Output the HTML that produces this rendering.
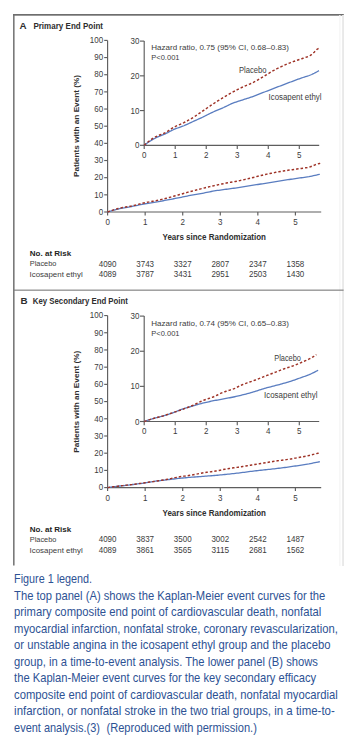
<!DOCTYPE html>
<html><head><meta charset="utf-8">
<style>
html,body{margin:0;padding:0;background:#fff;}
body{width:356px;height:743px;overflow:hidden;position:relative;}
svg{position:absolute;left:0;top:0;font-family:"Liberation Sans",sans-serif;}
</style></head><body>
<svg width="356" height="743" viewBox="0 0 356 743">
<rect x="13" y="14" width="1.6" height="551.5" fill="#7a7a7a"/>
<rect x="13" y="14" width="330.8" height="1.7" fill="#6e6e6e"/>
<rect x="342.1" y="15" width="1.9" height="551" fill="#e9e9e9"/>
<rect x="339.2" y="15" width="1.3" height="551" fill="#f6f6f6"/>
<rect x="14" y="289.6" width="329.6" height="1.1" fill="#7a7a7a"/>
<text x="19.6" y="28.9" font-weight="bold" font-size="9.8" fill="#2e2e2e">A</text>
<text x="33.4" y="29.4" font-weight="bold" font-size="8.9" fill="#2e2e2e" textLength="69.6" lengthAdjust="spacingAndGlyphs">Primary End Point</text>
<text x="20.4" y="303.8" font-weight="bold" font-size="9.8" fill="#2e2e2e">B</text>
<text x="32.8" y="303.8" font-weight="bold" font-size="8.9" fill="#2e2e2e" textLength="95.1" lengthAdjust="spacingAndGlyphs">Key Secondary End Point</text>
<g stroke="#5e5e5e" stroke-width="1.15" fill="none">
<path d="M107.6,40.40 V212.00 H321.2"/>
<path d="M104.2,212.00 H107.6"/>
<path d="M104.2,194.84 H107.6"/>
<path d="M104.2,177.68 H107.6"/>
<path d="M104.2,160.52 H107.6"/>
<path d="M104.2,143.36 H107.6"/>
<path d="M104.2,126.20 H107.6"/>
<path d="M104.2,109.04 H107.6"/>
<path d="M104.2,91.88 H107.6"/>
<path d="M104.2,74.72 H107.6"/>
<path d="M104.2,57.56 H107.6"/>
<path d="M104.2,40.40 H107.6"/>
<path d="M107.60,212.00 V215.40"/>
<path d="M145.16,212.00 V215.40"/>
<path d="M182.72,212.00 V215.40"/>
<path d="M220.28,212.00 V215.40"/>
<path d="M257.84,212.00 V215.40"/>
<path d="M295.40,212.00 V215.40"/>
</g>
<g fill="#3c3c3c" font-size="8.6" text-anchor="end">
<text x="103.1" y="214.75" textLength="4.45" lengthAdjust="spacingAndGlyphs">0</text>
<text x="103.1" y="197.59" textLength="8.90" lengthAdjust="spacingAndGlyphs">10</text>
<text x="103.1" y="180.43" textLength="8.90" lengthAdjust="spacingAndGlyphs">20</text>
<text x="103.1" y="163.27" textLength="8.90" lengthAdjust="spacingAndGlyphs">30</text>
<text x="103.1" y="146.11" textLength="8.90" lengthAdjust="spacingAndGlyphs">40</text>
<text x="103.1" y="128.95" textLength="8.90" lengthAdjust="spacingAndGlyphs">50</text>
<text x="103.1" y="111.79" textLength="8.90" lengthAdjust="spacingAndGlyphs">60</text>
<text x="103.1" y="94.63" textLength="8.90" lengthAdjust="spacingAndGlyphs">70</text>
<text x="103.1" y="77.47" textLength="8.90" lengthAdjust="spacingAndGlyphs">80</text>
<text x="103.1" y="60.31" textLength="8.90" lengthAdjust="spacingAndGlyphs">90</text>
<text x="103.1" y="43.15" textLength="13.35" lengthAdjust="spacingAndGlyphs">100</text>
</g>
<g fill="#3c3c3c" font-size="8.6" text-anchor="middle">
<text x="107.60" y="225.10" textLength="4.45" lengthAdjust="spacingAndGlyphs">0</text>
<text x="145.16" y="225.10" textLength="4.45" lengthAdjust="spacingAndGlyphs">1</text>
<text x="182.72" y="225.10" textLength="4.45" lengthAdjust="spacingAndGlyphs">2</text>
<text x="220.28" y="225.10" textLength="4.45" lengthAdjust="spacingAndGlyphs">3</text>
<text x="257.84" y="225.10" textLength="4.45" lengthAdjust="spacingAndGlyphs">4</text>
<text x="295.40" y="225.10" textLength="4.45" lengthAdjust="spacingAndGlyphs">5</text>
</g>
<polyline fill="none" stroke="#5a7dc0" stroke-width="1.3" points="107.60,212.00 109.10,211.53 110.60,211.08 112.11,210.63 113.61,210.21 115.11,209.80 116.61,209.41 118.12,209.05 119.62,208.70 121.12,208.38 122.62,208.09 124.13,207.81 125.63,207.54 127.13,207.28 128.63,207.03 130.14,206.77 131.64,206.50 133.14,206.22 134.64,205.92 136.15,205.60 137.65,205.27 139.15,204.94 140.65,204.62 142.16,204.31 143.66,204.02 145.16,203.76 146.66,203.52 148.16,203.30 149.67,203.09 151.17,202.88 152.67,202.65 154.17,202.42 155.68,202.16 157.18,201.90 158.68,201.62 160.18,201.33 161.69,201.04 163.19,200.74 164.69,200.45 166.19,200.16 167.70,199.87 169.20,199.59 170.70,199.31 172.20,199.03 173.71,198.75 175.21,198.47 176.71,198.18 178.21,197.89 179.72,197.60 181.22,197.29 182.72,196.98 184.22,196.66 185.72,196.34 187.23,196.02 188.73,195.72 190.23,195.42 191.73,195.13 193.24,194.85 194.74,194.59 196.24,194.33 197.74,194.08 199.25,193.82 200.75,193.56 202.25,193.30 203.75,193.02 205.26,192.73 206.76,192.42 208.26,192.12 209.76,191.81 211.27,191.51 212.77,191.23 214.27,190.96 215.77,190.71 217.28,190.48 218.78,190.27 220.28,190.06 221.78,189.86 223.28,189.66 224.79,189.46 226.29,189.26 227.79,189.06 229.29,188.86 230.80,188.66 232.30,188.46 233.80,188.25 235.30,188.05 236.81,187.84 238.31,187.63 239.81,187.41 241.31,187.18 242.82,186.94 244.32,186.70 245.82,186.45 247.32,186.20 248.83,185.95 250.33,185.70 251.83,185.46 253.33,185.21 254.84,184.97 256.34,184.73 257.84,184.49 259.34,184.25 260.84,184.01 262.35,183.77 263.85,183.53 265.35,183.29 266.85,183.05 268.36,182.81 269.86,182.57 271.36,182.33 272.86,182.09 274.37,181.85 275.87,181.62 277.37,181.38 278.87,181.14 280.38,180.90 281.88,180.67 283.38,180.43 284.88,180.19 286.39,179.96 287.89,179.73 289.39,179.50 290.89,179.26 292.40,179.03 293.90,178.80 295.40,178.57 296.90,178.35 298.40,178.13 299.91,177.93 301.41,177.74 302.91,177.54 304.41,177.35 305.92,177.15 307.42,176.93 308.92,176.68 310.42,176.39 311.93,176.07 313.43,175.73 314.93,175.39 316.43,175.05 317.94,174.72 319.44,174.43 319.81,174.37"/>
<polyline fill="none" stroke="#9e3226" stroke-width="1.45" stroke-dasharray="2.5 2.0" points="107.60,212.00 109.10,211.44 110.60,210.90 112.11,210.38 113.61,209.88 115.11,209.41 116.61,208.97 118.12,208.56 119.62,208.18 121.12,207.85 122.62,207.54 124.13,207.27 125.63,207.01 127.13,206.76 128.63,206.51 130.14,206.25 131.64,205.98 133.14,205.67 134.64,205.33 136.15,204.95 137.65,204.55 139.15,204.13 140.65,203.72 142.16,203.33 143.66,202.97 145.16,202.65 146.66,202.36 148.16,202.09 149.67,201.83 151.17,201.57 152.67,201.30 154.17,201.01 155.68,200.71 157.18,200.39 158.68,200.06 160.18,199.73 161.69,199.38 163.19,199.03 164.69,198.66 166.19,198.29 167.70,197.91 169.20,197.52 170.70,197.11 172.20,196.68 173.71,196.25 175.21,195.82 176.71,195.39 178.21,194.96 179.72,194.54 181.22,194.12 182.72,193.69 184.22,193.27 185.72,192.84 187.23,192.42 188.73,192.00 190.23,191.59 191.73,191.19 193.24,190.78 194.74,190.39 196.24,189.99 197.74,189.60 199.25,189.22 200.75,188.83 202.25,188.46 203.75,188.09 205.26,187.72 206.76,187.35 208.26,186.99 209.76,186.63 211.27,186.28 212.77,185.93 214.27,185.59 215.77,185.26 217.28,184.93 218.78,184.61 220.28,184.29 221.78,183.98 223.28,183.67 224.79,183.36 226.29,183.07 227.79,182.78 229.29,182.50 230.80,182.24 232.30,181.98 233.80,181.72 235.30,181.46 236.81,181.20 238.31,180.92 239.81,180.62 241.31,180.30 242.82,179.97 244.32,179.62 245.82,179.27 247.32,178.90 248.83,178.54 250.33,178.17 251.83,177.81 253.33,177.44 254.84,177.06 256.34,176.67 257.84,176.29 259.34,175.90 260.84,175.53 262.35,175.17 263.85,174.82 265.35,174.48 266.85,174.15 268.36,173.83 269.86,173.51 271.36,173.20 272.86,172.90 274.37,172.61 275.87,172.33 277.37,172.05 278.87,171.79 280.38,171.52 281.88,171.27 283.38,171.02 284.88,170.78 286.39,170.54 287.89,170.31 289.39,170.08 290.89,169.87 292.40,169.66 293.90,169.46 295.40,169.26 296.90,169.05 298.40,168.84 299.91,168.62 301.41,168.41 302.91,168.20 304.41,167.99 305.92,167.75 307.42,167.48 308.92,167.14 310.42,166.69 311.93,166.15 313.43,165.59 314.93,164.95 316.43,164.32 317.94,163.88 319.44,163.53 320.22,163.39"/>
<g stroke="#5e5e5e" stroke-width="1.15" fill="none">
<path d="M144.2,41.11 V145.30 H319.2"/>
<path d="M140,145.30 H144.2"/>
<path d="M140,110.57 H144.2"/>
<path d="M140,75.84 H144.2"/>
<path d="M140,41.11 H144.2"/>
<path d="M144.20,145.30 V149.10"/>
<path d="M175.22,145.30 V149.10"/>
<path d="M206.24,145.30 V149.10"/>
<path d="M237.26,145.30 V149.10"/>
<path d="M268.28,145.30 V149.10"/>
<path d="M299.30,145.30 V149.10"/>
</g>
<g fill="#3c3c3c" font-size="8.6" text-anchor="end">
<text x="139.4" y="148.40" textLength="4.45" lengthAdjust="spacingAndGlyphs">0</text>
<text x="139.4" y="113.67" textLength="8.90" lengthAdjust="spacingAndGlyphs">10</text>
<text x="139.4" y="78.94" textLength="8.90" lengthAdjust="spacingAndGlyphs">20</text>
<text x="139.4" y="44.21" textLength="8.90" lengthAdjust="spacingAndGlyphs">30</text>
</g>
<g fill="#3c3c3c" font-size="8.6" text-anchor="middle">
<text x="144.20" y="157.70" textLength="4.45" lengthAdjust="spacingAndGlyphs">0</text>
<text x="175.22" y="157.70" textLength="4.45" lengthAdjust="spacingAndGlyphs">1</text>
<text x="206.24" y="157.70" textLength="4.45" lengthAdjust="spacingAndGlyphs">2</text>
<text x="237.26" y="157.70" textLength="4.45" lengthAdjust="spacingAndGlyphs">3</text>
<text x="268.28" y="157.70" textLength="4.45" lengthAdjust="spacingAndGlyphs">4</text>
<text x="299.30" y="157.70" textLength="4.45" lengthAdjust="spacingAndGlyphs">5</text>
</g>
<polyline fill="none" stroke="#5a7dc0" stroke-width="1.3" points="144.20,145.30 145.44,144.37 146.68,143.46 147.92,142.58 149.16,141.74 150.40,140.93 151.64,140.16 152.89,139.43 154.13,138.74 155.37,138.10 156.61,137.51 157.85,136.96 159.09,136.43 160.33,135.92 161.57,135.41 162.81,134.89 164.05,134.36 165.29,133.80 166.53,133.20 167.78,132.57 169.02,131.91 170.26,131.26 171.50,130.62 172.74,130.00 173.98,129.42 175.22,128.91 176.46,128.43 177.70,127.99 178.94,127.57 180.18,127.14 181.42,126.70 182.66,126.23 183.91,125.73 185.15,125.19 186.39,124.63 187.63,124.06 188.87,123.48 190.11,122.89 191.35,122.31 192.59,121.73 193.83,121.17 195.07,120.61 196.31,120.05 197.55,119.50 198.80,118.94 200.04,118.38 201.28,117.81 202.52,117.23 203.76,116.64 205.00,116.03 206.24,115.40 207.48,114.77 208.72,114.14 209.96,113.51 211.20,112.89 212.44,112.30 213.68,111.73 214.93,111.18 216.17,110.65 217.41,110.14 218.65,109.63 219.89,109.12 221.13,108.61 222.37,108.08 223.61,107.53 224.85,106.94 226.09,106.34 227.33,105.73 228.57,105.12 229.82,104.53 231.06,103.96 232.30,103.42 233.54,102.93 234.78,102.48 236.02,102.05 237.26,101.63 238.50,101.24 239.74,100.84 240.98,100.45 242.22,100.05 243.46,99.65 244.70,99.24 245.95,98.84 247.19,98.44 248.43,98.05 249.67,97.64 250.91,97.23 252.15,96.81 253.39,96.37 254.63,95.91 255.87,95.44 257.11,94.95 258.35,94.45 259.59,93.96 260.84,93.46 262.08,92.96 263.32,92.48 264.56,91.99 265.80,91.51 267.04,91.03 268.28,90.55 269.52,90.07 270.76,89.59 272.00,89.12 273.24,88.64 274.48,88.16 275.72,87.68 276.97,87.21 278.21,86.73 279.45,86.26 280.69,85.78 281.93,85.31 283.17,84.84 284.41,84.36 285.65,83.89 286.89,83.42 288.13,82.94 289.37,82.47 290.61,82.01 291.86,81.54 293.10,81.08 294.34,80.61 295.58,80.15 296.82,79.69 298.06,79.23 299.30,78.78 300.54,78.34 301.78,77.90 303.02,77.50 304.26,77.11 305.50,76.73 306.74,76.35 307.99,75.94 309.23,75.50 310.47,75.01 311.71,74.48 312.95,73.90 314.19,73.29 315.43,72.64 316.67,71.96 317.91,71.25 319.00,70.60"/>
<polyline fill="none" stroke="#9e3226" stroke-width="1.45" stroke-dasharray="2.5 2.0" points="144.20,145.30 145.44,144.18 146.68,143.09 147.92,142.04 149.16,141.04 150.40,140.10 151.64,139.21 152.89,138.39 154.13,137.64 155.37,136.97 156.61,136.36 157.85,135.81 159.09,135.29 160.33,134.79 161.57,134.29 162.81,133.77 164.05,133.22 165.29,132.61 166.53,131.92 167.78,131.16 169.02,130.35 170.26,129.52 171.50,128.70 172.74,127.91 173.98,127.18 175.22,126.54 176.46,125.96 177.70,125.41 178.94,124.89 180.18,124.37 181.42,123.84 182.66,123.26 183.91,122.65 185.15,122.01 186.39,121.35 187.63,120.68 188.87,119.99 190.11,119.28 191.35,118.55 192.59,117.81 193.83,117.05 195.07,116.25 196.31,115.42 197.55,114.58 198.80,113.72 200.04,112.85 201.28,111.98 202.52,111.13 203.76,110.28 205.00,109.43 206.24,108.58 207.48,107.73 208.72,106.88 209.96,106.03 211.20,105.19 212.44,104.36 213.68,103.55 214.93,102.74 216.17,101.95 217.41,101.16 218.65,100.37 219.89,99.60 221.13,98.83 222.37,98.08 223.61,97.33 224.85,96.59 226.09,95.86 227.33,95.14 228.57,94.42 229.82,93.71 231.06,93.02 232.30,92.33 233.54,91.67 234.78,91.01 236.02,90.36 237.26,89.72 238.50,89.09 239.74,88.47 240.98,87.86 242.22,87.27 243.46,86.68 244.70,86.13 245.95,85.60 247.19,85.08 248.43,84.57 249.67,84.05 250.91,83.51 252.15,82.95 253.39,82.36 254.63,81.72 255.87,81.05 257.11,80.36 258.35,79.64 259.59,78.91 260.84,78.18 262.08,77.44 263.32,76.71 264.56,75.97 265.80,75.21 267.04,74.44 268.28,73.66 269.52,72.90 270.76,72.15 272.00,71.42 273.24,70.72 274.48,70.05 275.72,69.38 276.97,68.73 278.21,68.10 279.45,67.48 280.69,66.88 281.93,66.29 283.17,65.72 284.41,65.17 285.65,64.64 286.89,64.11 288.13,63.60 289.37,63.10 290.61,62.62 291.86,62.14 293.10,61.68 294.34,61.22 295.58,60.79 296.82,60.38 298.06,59.97 299.30,59.56 300.54,59.15 301.78,58.73 303.02,58.29 304.26,57.86 305.50,57.45 306.74,57.02 307.99,56.54 309.23,55.99 310.47,55.33 311.71,54.42 312.95,53.34 314.19,52.21 315.43,50.93 316.67,49.66 317.91,48.77 319.15,48.07 319.80,47.80"/>
<g fill="#3c3c3c" font-size="7.9">
<text x="151.3" y="50.40" textLength="137.7" lengthAdjust="spacingAndGlyphs">Hazard ratio, 0.75 (95% CI, 0.68–0.83)</text>
<text x="151.3" y="59.70" textLength="28.2" lengthAdjust="spacingAndGlyphs">P&lt;0.001</text>
<text x="239.0" y="72.90" font-size="8.5" textLength="27.6" lengthAdjust="spacingAndGlyphs">Placebo</text>
<text x="268.5" y="99.80" font-size="8.3" textLength="53.0" lengthAdjust="spacingAndGlyphs">Icosapent ethyl</text>
</g>
<text transform="translate(79.2,126.00) rotate(-90)" text-anchor="middle" font-weight="bold" font-size="8.0" fill="#2e2e2e" textLength="102" lengthAdjust="spacingAndGlyphs">Patients with an Event (%)</text>
<text x="162.5" y="239.70" font-weight="bold" font-size="8.4" fill="#2e2e2e" textLength="103.5" lengthAdjust="spacingAndGlyphs">Years since Randomization</text>
<g fill="#3c3c3c" font-size="7.9">
<text x="29.8" y="255.90" font-weight="bold" font-size="7.9" fill="#1e1e1e" textLength="41.4" lengthAdjust="spacingAndGlyphs">No. at Risk</text>
<text x="29.8" y="266.30" textLength="26.6" lengthAdjust="spacingAndGlyphs">Placebo</text>
<text x="29.6" y="276.70" textLength="53.1" lengthAdjust="spacingAndGlyphs">Icosapent ethyl</text>
</g>
<g fill="#3c3c3c" font-size="8.6" text-anchor="middle">
<text x="107.60" y="266.50" textLength="17.80" lengthAdjust="spacingAndGlyphs">4090</text>
<text x="107.60" y="276.80" textLength="17.80" lengthAdjust="spacingAndGlyphs">4089</text>
<text x="145.16" y="266.50" textLength="17.80" lengthAdjust="spacingAndGlyphs">3743</text>
<text x="145.16" y="276.80" textLength="17.80" lengthAdjust="spacingAndGlyphs">3787</text>
<text x="182.72" y="266.50" textLength="17.80" lengthAdjust="spacingAndGlyphs">3327</text>
<text x="182.72" y="276.80" textLength="17.80" lengthAdjust="spacingAndGlyphs">3431</text>
<text x="220.28" y="266.50" textLength="17.80" lengthAdjust="spacingAndGlyphs">2807</text>
<text x="220.28" y="276.80" textLength="17.80" lengthAdjust="spacingAndGlyphs">2951</text>
<text x="257.84" y="266.50" textLength="17.80" lengthAdjust="spacingAndGlyphs">2347</text>
<text x="257.84" y="276.80" textLength="17.80" lengthAdjust="spacingAndGlyphs">2503</text>
<text x="295.40" y="266.50" textLength="17.80" lengthAdjust="spacingAndGlyphs">1358</text>
<text x="295.40" y="276.80" textLength="17.80" lengthAdjust="spacingAndGlyphs">1430</text>
</g>
<g stroke="#5e5e5e" stroke-width="1.15" fill="none">
<path d="M107.6,315.55 V487.60 H321.2"/>
<path d="M104.2,487.60 H107.6"/>
<path d="M104.2,470.40 H107.6"/>
<path d="M104.2,453.19 H107.6"/>
<path d="M104.2,435.99 H107.6"/>
<path d="M104.2,418.78 H107.6"/>
<path d="M104.2,401.58 H107.6"/>
<path d="M104.2,384.37 H107.6"/>
<path d="M104.2,367.17 H107.6"/>
<path d="M104.2,349.96 H107.6"/>
<path d="M104.2,332.75 H107.6"/>
<path d="M104.2,315.55 H107.6"/>
<path d="M107.60,487.60 V491.00"/>
<path d="M145.16,487.60 V491.00"/>
<path d="M182.72,487.60 V491.00"/>
<path d="M220.28,487.60 V491.00"/>
<path d="M257.84,487.60 V491.00"/>
<path d="M295.40,487.60 V491.00"/>
</g>
<g fill="#3c3c3c" font-size="8.6" text-anchor="end">
<text x="103.1" y="490.35" textLength="4.45" lengthAdjust="spacingAndGlyphs">0</text>
<text x="103.1" y="473.15" textLength="8.90" lengthAdjust="spacingAndGlyphs">10</text>
<text x="103.1" y="455.94" textLength="8.90" lengthAdjust="spacingAndGlyphs">20</text>
<text x="103.1" y="438.74" textLength="8.90" lengthAdjust="spacingAndGlyphs">30</text>
<text x="103.1" y="421.53" textLength="8.90" lengthAdjust="spacingAndGlyphs">40</text>
<text x="103.1" y="404.33" textLength="8.90" lengthAdjust="spacingAndGlyphs">50</text>
<text x="103.1" y="387.12" textLength="8.90" lengthAdjust="spacingAndGlyphs">60</text>
<text x="103.1" y="369.92" textLength="8.90" lengthAdjust="spacingAndGlyphs">70</text>
<text x="103.1" y="352.71" textLength="8.90" lengthAdjust="spacingAndGlyphs">80</text>
<text x="103.1" y="335.50" textLength="8.90" lengthAdjust="spacingAndGlyphs">90</text>
<text x="103.1" y="318.30" textLength="13.35" lengthAdjust="spacingAndGlyphs">100</text>
</g>
<g fill="#3c3c3c" font-size="8.6" text-anchor="middle">
<text x="107.60" y="500.70" textLength="4.45" lengthAdjust="spacingAndGlyphs">0</text>
<text x="145.16" y="500.70" textLength="4.45" lengthAdjust="spacingAndGlyphs">1</text>
<text x="182.72" y="500.70" textLength="4.45" lengthAdjust="spacingAndGlyphs">2</text>
<text x="220.28" y="500.70" textLength="4.45" lengthAdjust="spacingAndGlyphs">3</text>
<text x="257.84" y="500.70" textLength="4.45" lengthAdjust="spacingAndGlyphs">4</text>
<text x="295.40" y="500.70" textLength="4.45" lengthAdjust="spacingAndGlyphs">5</text>
</g>
<polyline fill="none" stroke="#5a7dc0" stroke-width="1.3" points="107.60,487.60 109.10,487.38 110.60,487.17 112.11,486.96 113.61,486.76 115.11,486.56 116.61,486.37 118.12,486.18 119.62,486.01 121.12,485.84 122.62,485.68 124.13,485.53 125.63,485.37 127.13,485.21 128.63,485.05 130.14,484.88 131.64,484.70 133.14,484.51 134.64,484.32 136.15,484.13 137.65,483.93 139.15,483.73 140.65,483.52 142.16,483.30 143.66,483.08 145.16,482.84 146.66,482.59 148.16,482.34 149.67,482.08 151.17,481.83 152.67,481.59 154.17,481.36 155.68,481.16 157.18,480.96 158.68,480.77 160.18,480.59 161.69,480.41 163.19,480.23 164.69,480.06 166.19,479.88 167.70,479.70 169.20,479.52 170.70,479.34 172.20,479.15 173.71,478.98 175.21,478.80 176.71,478.63 178.21,478.47 179.72,478.31 181.22,478.16 182.72,478.02 184.22,477.88 185.72,477.74 187.23,477.61 188.73,477.47 190.23,477.35 191.73,477.22 193.24,477.10 194.74,476.98 196.24,476.87 197.74,476.76 199.25,476.64 200.75,476.53 202.25,476.42 203.75,476.30 205.26,476.19 206.76,476.08 208.26,475.96 209.76,475.85 211.27,475.74 212.77,475.62 214.27,475.49 215.77,475.37 217.28,475.23 218.78,475.10 220.28,474.95 221.78,474.81 223.28,474.66 224.79,474.51 226.29,474.36 227.79,474.20 229.29,474.05 230.80,473.88 232.30,473.72 233.80,473.55 235.30,473.38 236.81,473.21 238.31,473.03 239.81,472.85 241.31,472.66 242.82,472.47 244.32,472.27 245.82,472.06 247.32,471.86 248.83,471.66 250.33,471.46 251.83,471.27 253.33,471.08 254.84,470.91 256.34,470.74 257.84,470.57 259.34,470.41 260.84,470.25 262.35,470.09 263.85,469.93 265.35,469.77 266.85,469.61 268.36,469.45 269.86,469.29 271.36,469.12 272.86,468.96 274.37,468.78 275.87,468.61 277.37,468.43 278.87,468.25 280.38,468.07 281.88,467.88 283.38,467.69 284.88,467.50 286.39,467.30 287.89,467.10 289.39,466.89 290.89,466.67 292.40,466.45 293.90,466.22 295.40,465.99 296.90,465.77 298.40,465.55 299.91,465.33 301.41,465.12 302.91,464.90 304.41,464.67 305.92,464.43 307.42,464.18 308.92,463.92 310.42,463.62 311.93,463.30 313.43,462.97 314.93,462.64 316.43,462.32 317.94,462.02 319.44,461.75 319.81,461.68"/>
<polyline fill="none" stroke="#9e3226" stroke-width="1.45" stroke-dasharray="2.5 2.0" points="107.60,487.60 109.10,487.38 110.60,487.17 112.11,486.96 113.61,486.75 115.11,486.55 116.61,486.35 118.12,486.16 119.62,485.98 121.12,485.80 122.62,485.64 124.13,485.47 125.63,485.31 127.13,485.14 128.63,484.97 130.14,484.79 131.64,484.60 133.14,484.40 134.64,484.20 136.15,483.99 137.65,483.78 139.15,483.56 140.65,483.35 142.16,483.13 143.66,482.92 145.16,482.71 146.66,482.50 148.16,482.29 149.67,482.08 151.17,481.87 152.67,481.65 154.17,481.43 155.68,481.20 157.18,480.97 158.68,480.74 160.18,480.50 161.69,480.26 163.19,480.01 164.69,479.76 166.19,479.50 167.70,479.22 169.20,478.93 170.70,478.61 172.20,478.29 173.71,477.96 175.21,477.64 176.71,477.34 178.21,477.06 179.72,476.80 181.22,476.57 182.72,476.35 184.22,476.15 185.72,475.94 187.23,475.74 188.73,475.53 190.23,475.30 191.73,475.05 193.24,474.78 194.74,474.48 196.24,474.17 197.74,473.86 199.25,473.55 200.75,473.25 202.25,472.98 203.75,472.73 205.26,472.51 206.76,472.30 208.26,472.10 209.76,471.91 211.27,471.71 212.77,471.50 214.27,471.28 215.77,471.04 217.28,470.77 218.78,470.47 220.28,470.17 221.78,469.85 223.28,469.54 224.79,469.24 226.29,468.96 227.79,468.70 229.29,468.46 230.80,468.24 232.30,468.03 233.80,467.82 235.30,467.61 236.81,467.40 238.31,467.18 239.81,466.95 241.31,466.72 242.82,466.47 244.32,466.23 245.82,465.98 247.32,465.73 248.83,465.48 250.33,465.23 251.83,464.98 253.33,464.74 254.84,464.49 256.34,464.25 257.84,464.01 259.34,463.77 260.84,463.53 262.35,463.28 263.85,463.04 265.35,462.79 266.85,462.54 268.36,462.28 269.86,462.03 271.36,461.77 272.86,461.53 274.37,461.29 275.87,461.06 277.37,460.84 278.87,460.63 280.38,460.43 281.88,460.24 283.38,460.04 284.88,459.84 286.39,459.63 287.89,459.40 289.39,459.17 290.89,458.92 292.40,458.66 293.90,458.40 295.40,458.13 296.90,457.85 298.40,457.58 299.91,457.31 301.41,457.04 302.91,456.77 304.41,456.49 305.92,456.20 307.42,455.90 308.92,455.58 310.42,455.22 311.93,454.82 313.43,454.39 314.93,453.98 316.43,453.61 317.94,453.27 319.44,452.95 319.81,452.88"/>
<g stroke="#5e5e5e" stroke-width="1.15" fill="none">
<path d="M144.2,316.11 V421.50 H319.2"/>
<path d="M140,421.50 H144.2"/>
<path d="M140,386.37 H144.2"/>
<path d="M140,351.24 H144.2"/>
<path d="M140,316.11 H144.2"/>
<path d="M144.20,421.50 V425.30"/>
<path d="M175.22,421.50 V425.30"/>
<path d="M206.24,421.50 V425.30"/>
<path d="M237.26,421.50 V425.30"/>
<path d="M268.28,421.50 V425.30"/>
<path d="M299.30,421.50 V425.30"/>
</g>
<g fill="#3c3c3c" font-size="8.6" text-anchor="end">
<text x="139.4" y="424.60" textLength="4.45" lengthAdjust="spacingAndGlyphs">0</text>
<text x="139.4" y="389.47" textLength="8.90" lengthAdjust="spacingAndGlyphs">10</text>
<text x="139.4" y="354.34" textLength="8.90" lengthAdjust="spacingAndGlyphs">20</text>
<text x="139.4" y="319.21" textLength="8.90" lengthAdjust="spacingAndGlyphs">30</text>
</g>
<g fill="#3c3c3c" font-size="8.6" text-anchor="middle">
<text x="144.20" y="433.90" textLength="4.45" lengthAdjust="spacingAndGlyphs">0</text>
<text x="175.22" y="433.90" textLength="4.45" lengthAdjust="spacingAndGlyphs">1</text>
<text x="206.24" y="433.90" textLength="4.45" lengthAdjust="spacingAndGlyphs">2</text>
<text x="237.26" y="433.90" textLength="4.45" lengthAdjust="spacingAndGlyphs">3</text>
<text x="268.28" y="433.90" textLength="4.45" lengthAdjust="spacingAndGlyphs">4</text>
<text x="299.30" y="433.90" textLength="4.45" lengthAdjust="spacingAndGlyphs">5</text>
</g>
<polyline fill="none" stroke="#5a7dc0" stroke-width="1.3" points="144.20,421.50 145.44,421.06 146.68,420.64 147.92,420.22 149.16,419.81 150.40,419.42 151.64,419.03 152.89,418.66 154.13,418.31 155.37,417.98 156.61,417.66 157.85,417.35 159.09,417.04 160.33,416.72 161.57,416.40 162.81,416.05 164.05,415.69 165.29,415.32 166.53,414.94 167.78,414.55 169.02,414.15 170.26,413.74 171.50,413.33 172.74,412.90 173.98,412.45 175.22,411.98 176.46,411.48 177.70,410.97 178.94,410.45 180.18,409.95 181.42,409.47 182.66,409.02 183.91,408.60 185.15,408.21 186.39,407.83 187.63,407.46 188.87,407.10 190.11,406.75 191.35,406.40 192.59,406.05 193.83,405.69 195.07,405.32 196.31,404.96 197.55,404.59 198.80,404.24 200.04,403.89 201.28,403.55 202.52,403.22 203.76,402.91 205.00,402.61 206.24,402.32 207.48,402.04 208.72,401.76 209.96,401.49 211.20,401.23 212.44,400.97 213.68,400.72 214.93,400.48 216.17,400.24 217.41,400.02 218.65,399.79 219.89,399.57 221.13,399.34 222.37,399.12 223.61,398.89 224.85,398.66 226.09,398.43 227.33,398.21 228.57,397.98 229.82,397.75 231.06,397.51 232.30,397.26 233.54,397.01 234.78,396.74 236.02,396.47 237.26,396.19 238.50,395.90 239.74,395.60 240.98,395.30 242.22,394.99 243.46,394.68 244.70,394.37 245.95,394.04 247.19,393.71 248.43,393.38 249.67,393.04 250.91,392.69 252.15,392.33 253.39,391.97 254.63,391.60 255.87,391.21 257.11,390.81 258.35,390.40 259.59,389.99 260.84,389.58 262.08,389.19 263.32,388.80 264.56,388.44 265.80,388.09 267.04,387.74 268.28,387.41 269.52,387.08 270.76,386.76 272.00,386.44 273.24,386.12 274.48,385.81 275.72,385.49 276.97,385.17 278.21,384.84 279.45,384.51 280.69,384.18 281.93,383.83 283.17,383.48 284.41,383.12 285.65,382.76 286.89,382.40 288.13,382.03 289.37,381.65 290.61,381.27 291.86,380.87 293.10,380.47 294.34,380.05 295.58,379.61 296.82,379.15 298.06,378.69 299.30,378.24 300.54,377.79 301.78,377.35 303.02,376.92 304.26,376.49 305.50,376.05 306.74,375.60 307.99,375.12 309.23,374.63 310.47,374.10 311.71,373.53 312.95,372.94 314.19,372.32 315.43,371.67 316.67,371.00 317.91,370.31 318.10,370.20"/>
<polyline fill="none" stroke="#9e3226" stroke-width="1.45" stroke-dasharray="2.5 2.0" points="144.20,421.50 145.44,421.07 146.68,420.64 147.92,420.23 149.16,419.82 150.40,419.43 151.64,419.04 152.89,418.66 154.13,418.30 155.37,417.96 156.61,417.63 157.85,417.30 159.09,416.98 160.33,416.65 161.57,416.31 162.81,415.96 164.05,415.58 165.29,415.19 166.53,414.79 167.78,414.37 169.02,413.95 170.26,413.53 171.50,413.11 172.74,412.69 173.98,412.27 175.22,411.86 176.46,411.45 177.70,411.03 178.94,410.61 180.18,410.19 181.42,409.76 182.66,409.32 183.91,408.87 185.15,408.42 186.39,407.96 187.63,407.50 188.87,407.02 190.11,406.54 191.35,406.03 192.59,405.52 193.83,404.98 195.07,404.39 196.31,403.77 197.55,403.13 198.80,402.49 200.04,401.86 201.28,401.26 202.52,400.70 203.76,400.20 205.00,399.74 206.24,399.32 207.48,398.91 208.72,398.51 209.96,398.10 211.20,397.68 212.44,397.23 213.68,396.74 214.93,396.20 216.17,395.62 217.41,395.01 218.65,394.39 219.89,393.78 221.13,393.20 222.37,392.65 223.61,392.17 224.85,391.72 226.09,391.31 227.33,390.92 228.57,390.54 229.82,390.15 231.06,389.74 232.30,389.30 233.54,388.83 234.78,388.29 236.02,387.71 237.26,387.10 238.50,386.49 239.74,385.87 240.98,385.28 242.22,384.72 243.46,384.22 244.70,383.75 245.95,383.31 247.19,382.88 248.43,382.47 249.67,382.06 250.91,381.64 252.15,381.21 253.39,380.77 254.63,380.30 255.87,379.82 257.11,379.33 258.35,378.84 259.59,378.35 260.84,377.85 262.08,377.36 263.32,376.88 264.56,376.40 265.80,375.92 267.04,375.44 268.28,374.96 269.52,374.49 270.76,374.01 272.00,373.53 273.24,373.04 274.48,372.55 275.72,372.05 276.97,371.55 278.21,371.05 279.45,370.55 280.69,370.07 281.93,369.59 283.17,369.14 284.41,368.71 285.65,368.30 286.89,367.91 288.13,367.52 289.37,367.13 290.61,366.73 291.86,366.31 293.10,365.87 294.34,365.41 295.58,364.92 296.82,364.41 298.06,363.89 299.30,363.35 300.54,362.82 301.78,362.28 303.02,361.75 304.26,361.22 305.50,360.68 306.74,360.13 307.99,359.56 309.23,358.96 310.47,358.32 311.71,357.64 312.95,356.89 314.19,356.10 315.43,355.27 316.40,354.60"/>
<g fill="#3c3c3c" font-size="7.9">
<text x="151.3" y="326.20" textLength="137.7" lengthAdjust="spacingAndGlyphs">Hazard ratio, 0.74 (95% CI, 0.65–0.83)</text>
<text x="151.3" y="335.50" textLength="28.2" lengthAdjust="spacingAndGlyphs">P&lt;0.001</text>
<text x="274.2" y="360.50" font-size="8.5" textLength="26.8" lengthAdjust="spacingAndGlyphs">Placebo</text>
<text x="264.0" y="397.60" font-size="8.3" textLength="53.4" lengthAdjust="spacingAndGlyphs">Icosapent ethyl</text>
</g>
<text transform="translate(79.2,401.80) rotate(-90)" text-anchor="middle" font-weight="bold" font-size="8.0" fill="#2e2e2e" textLength="102" lengthAdjust="spacingAndGlyphs">Patients with an Event (%)</text>
<text x="162.5" y="515.50" font-weight="bold" font-size="8.4" fill="#2e2e2e" textLength="103.5" lengthAdjust="spacingAndGlyphs">Years since Randomization</text>
<g fill="#3c3c3c" font-size="7.9">
<text x="29.8" y="531.70" font-weight="bold" font-size="7.9" fill="#1e1e1e" textLength="41.4" lengthAdjust="spacingAndGlyphs">No. at Risk</text>
<text x="29.8" y="542.10" textLength="26.6" lengthAdjust="spacingAndGlyphs">Placebo</text>
<text x="29.6" y="552.50" textLength="53.1" lengthAdjust="spacingAndGlyphs">Icosapent ethyl</text>
</g>
<g fill="#3c3c3c" font-size="8.6" text-anchor="middle">
<text x="107.60" y="542.30" textLength="17.80" lengthAdjust="spacingAndGlyphs">4090</text>
<text x="107.60" y="552.60" textLength="17.80" lengthAdjust="spacingAndGlyphs">4089</text>
<text x="145.16" y="542.30" textLength="17.80" lengthAdjust="spacingAndGlyphs">3837</text>
<text x="145.16" y="552.60" textLength="17.80" lengthAdjust="spacingAndGlyphs">3861</text>
<text x="182.72" y="542.30" textLength="17.80" lengthAdjust="spacingAndGlyphs">3500</text>
<text x="182.72" y="552.60" textLength="17.80" lengthAdjust="spacingAndGlyphs">3565</text>
<text x="220.28" y="542.30" textLength="17.80" lengthAdjust="spacingAndGlyphs">3002</text>
<text x="220.28" y="552.60" textLength="17.80" lengthAdjust="spacingAndGlyphs">3115</text>
<text x="257.84" y="542.30" textLength="17.80" lengthAdjust="spacingAndGlyphs">2542</text>
<text x="257.84" y="552.60" textLength="17.80" lengthAdjust="spacingAndGlyphs">2681</text>
<text x="295.40" y="542.30" textLength="17.80" lengthAdjust="spacingAndGlyphs">1487</text>
<text x="295.40" y="552.60" textLength="17.80" lengthAdjust="spacingAndGlyphs">1562</text>
</g>
<g fill="#2d5294" font-size="13.2" xml:space="preserve">
<text x="14.1" y="583.00" textLength="77.9" lengthAdjust="spacingAndGlyphs">Figure 1 legend.</text>
<text x="14.1" y="599.50" textLength="311.2" lengthAdjust="spacingAndGlyphs">The top panel (A) shows the Kaplan-Meier event curves for the</text>
<text x="14.1" y="616.00" textLength="307.2" lengthAdjust="spacingAndGlyphs">primary composite end point of cardiovascular death, nonfatal</text>
<text x="14.1" y="632.50" textLength="323.7" lengthAdjust="spacingAndGlyphs">myocardial infarction, nonfatal stroke, coronary revascularization,</text>
<text x="14.1" y="649.00" textLength="316.3" lengthAdjust="spacingAndGlyphs">or unstable angina in the icosapent ethyl group and the placebo</text>
<text x="14.1" y="665.50" textLength="303.8" lengthAdjust="spacingAndGlyphs">group, in a time-to-event analysis. The lower panel (B) shows</text>
<text x="14.1" y="682.00" textLength="302.1" lengthAdjust="spacingAndGlyphs">the Kaplan-Meier event curves for the key secondary efficacy</text>
<text x="14.1" y="698.50" textLength="323.7" lengthAdjust="spacingAndGlyphs">composite end point of cardiovascular death, nonfatal myocardial</text>
<text x="14.1" y="715.00" textLength="320.7" lengthAdjust="spacingAndGlyphs">infarction, or nonfatal stroke in the two trial groups, in a time-to-</text>
<text x="14.1" y="731.50" textLength="85.8" lengthAdjust="spacingAndGlyphs">event analysis.(3)</text>
<text x="106.5" y="731.50" textLength="150.4" lengthAdjust="spacingAndGlyphs">(Reproduced with permission.)</text>
</g>
</svg>
</body></html>
